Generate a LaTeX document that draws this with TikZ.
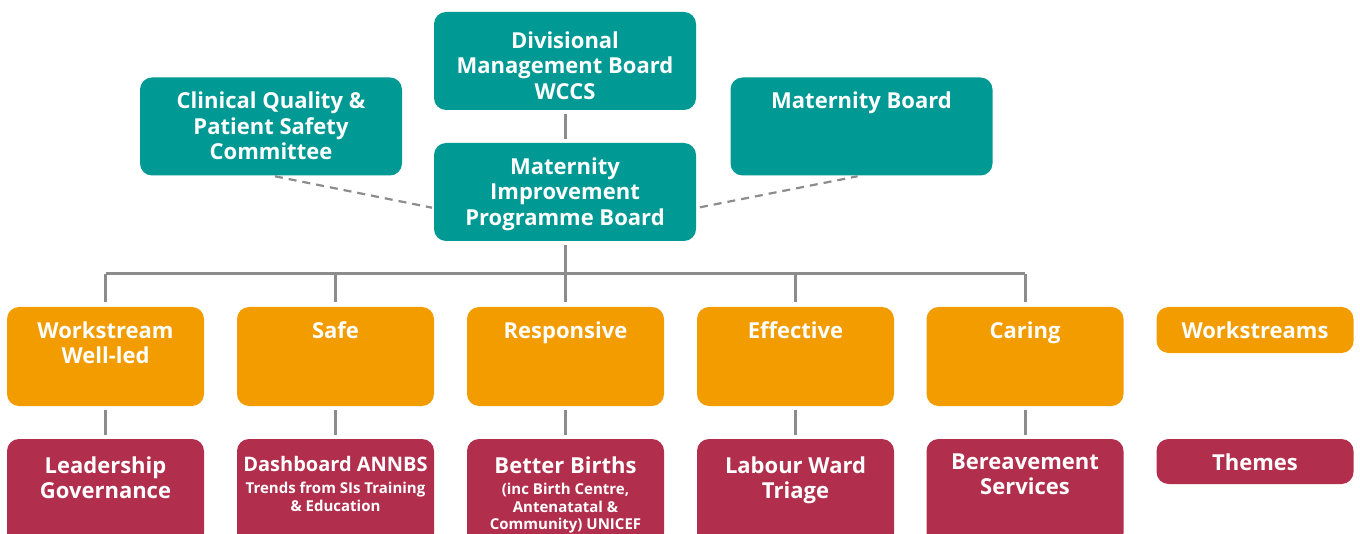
\documentclass[tikz,border=0pt]{standalone}
\usepackage{fontspec}
\setmainfont{Open Sans}
\definecolor{mipteal}{RGB}{0,153,148}
\definecolor{wsorange}{RGB}{243,156,0}
\definecolor{themered}{RGB}{177,46,76}
\definecolor{linegray}{RGB}{140,140,140}
\newcommand{\smalltxt}{\fontsize{7.5}{9.3}\selectfont}
\begin{document}
\begin{tikzpicture}[x=0.5pt,y=-0.5pt,
    board/.style={fill=mipteal, rounded corners=6pt, minimum width=131pt, minimum height=49pt, inner sep=0pt, outer sep=0pt},
    stream/.style={fill=wsorange, rounded corners=6pt, minimum width=98.5pt, minimum height=49.5pt, inner sep=0pt, outer sep=0pt},
    theme/.style={fill=themered, rounded corners=6pt, minimum width=98.5pt, minimum height=53pt, inner sep=0pt, outer sep=0pt},
    txt/.style={anchor=north, align=center, text=white, inner xsep=0pt, inner ysep=7pt, font=\bfseries\fontsize{11}{12.8}\selectfont},
    link/.style={draw=linegray, line width=1.5pt},
    dotlink/.style={draw=linegray, line width=1.1pt, dash pattern=on 4pt off 3pt}]
        \useasboundingbox (0,0) rectangle (1360,534);
        %% Boards
        \node[board, label={[txt, yshift=-2.5pt]north:Divisional\\Management Board\\WCCS}] (dmb) at (565,61) {};
        \node[board, label={[txt]north:Clinical Quality \&\\Patient Safety\\Committee}] (cqps) at (271,126.5) {};
        \node[board, label={[txt]north:Maternity Board}] (matb) at (861.5,126.5) {};
        \node[board, label={[txt]north:Maternity\\Improvement\\Programme Board}] (mipb) at (565,192) {};
        %% Workstreams
        \node[stream, label={[txt]north:Workstream\\Well-led}] (welled) at (105.5,356.5) {};
        \node[stream, label={[txt]north:Safe}] (safe) at (335.5,356.5) {};
        \node[stream, label={[txt]north:Responsive}] (resp) at (565.5,356.5) {};
        \node[stream, label={[txt]north:Effective}] (effect) at (795.5,356.5) {};
        \node[stream, label={[txt]north:Caring}] (caring) at (1025,356.5) {};
        \node[stream, minimum height=23pt, label={[txt]north:Workstreams}] (wslegend) at (1255,330) {};
        %% Themes
        \node[theme, label={[txt, yshift=-1.5pt]north:Leadership\\Governance}] (lead) at (105.5,492) {};
        \node[theme, label={[txt, yshift=-1.7pt]north:\fontsize{10}{12}\selectfont Dashboard ANNBS\\[-2pt]\smalltxt Trends from SIs Training\\[-3.7pt]\smalltxt\& Education}] (dash) at (335.5,492) {};
        \node[theme, label={[txt, yshift=-1.5pt]north:Better Births\\[-2.2pt]\smalltxt(inc Birth Centre,\\[-3.9pt]\smalltxt Antenatatal \&\\[-3.9pt]\smalltxt Community) UNICEF}] (births) at (565.5,492) {};
        \node[theme, label={[txt, yshift=-1.5pt]north:Labour Ward\\Triage}] (triage) at (795.5,492) {};
        \node[theme, label={[txt]north:Bereavement\\Services}] (bereave) at (1025,492) {};
        \node[theme, minimum height=22.5pt, label={[txt]north:Themes}] (thlegend) at (1255,461.5) {};
        %% Links between boards
        \draw[link, shorten <=2pt, shorten >=2pt] (dmb) -- (mipb);
        \draw[dotlink, shorten <=2pt, shorten >=1pt] (cqps.south) -- (mipb.187);
        \draw[dotlink, shorten <=2pt, shorten >=2pt] (mipb.-7) -- (matb.south);
        %% Bus to workstreams
        \coordinate (bus) at (565,274);
        \draw[link, shorten <=2pt] (mipb) -- (bus);
        \draw[link] (welled.north |- bus) -- (caring.north |- bus);
        \draw[link, shorten >=2.5pt] (welled.north |- bus) -- (welled);
        \draw[link, shorten >=2.5pt] (safe.north |- bus) -- (safe);
        \draw[link, shorten >=2.5pt] (resp.north |- bus) -- (resp);
        \draw[link, shorten >=2.5pt] (effect.north |- bus) -- (effect);
        \draw[link, shorten >=2.5pt] (caring.north |- bus) -- (caring);
        %% Workstreams to themes
        \draw[link, shorten <=2pt, shorten >=2pt] (welled) -- (lead);
        \draw[link, shorten <=2pt, shorten >=2pt] (safe) -- (dash);
        \draw[link, shorten <=2pt, shorten >=2pt] (resp) -- (births);
        \draw[link, shorten <=2pt, shorten >=2pt] (effect) -- (triage);
        \draw[link, shorten <=2pt, shorten >=2pt] (caring) -- (bereave);
    \end{tikzpicture}
\end{document}
